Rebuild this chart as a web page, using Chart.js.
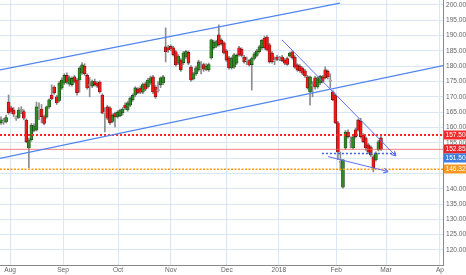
<!DOCTYPE html>
<html lang="en">
<head>
<meta charset="UTF-8">
<title>Daily candles</title>
<script src="https://cdn.jsdelivr.net/npm/chart.js@4.4.0/dist/chart.umd.min.js"></script>
<style>
  html, body { margin: 0; padding: 0; background: #fff; }
</style>
</head>
<body>
<canvas id="chart" width="466" height="275"></canvas>
<script>
// daily candles, late Jul 2017 -> end Feb 2018
const opens = [161.5,162,161.8,168.3,166.4,165.7,163.4,163.3,165.5,165.2,162.4,153.3,156,159,159.2,166,166,163.5,163.4,166.7,
  170.6,173.2,170,168.8,172.9,174.5,177,174.2,174,176.5,175.5,175.5,177.8,180,177,174,173.5,175,174.5,174.8,
  170.6,165,166.7,166.4,162,164.5,163.4,163.8,164.8,167.3,165.7,167.3,169,170.6,172.5,172.8,171.5,174.2,173.2,174.5,
  176.5,173.2,172,173.9,174.5,186.3,186,186.5,186,184.7,181,182,181.1,183,184.5,179.7,175.8,177.5,178.8,179,
  180.5,178.9,178.8,182.7,186,186.5,190.2,188.5,187.6,185,182.7,179.5,179.7,181,186,185.5,183,182,181.8,180.5,
  182.5,183.5,184.7,186,189.2,189.5,187,184.3,182,183,182.8,183,182,182.5,183.3,184.7,183,180.4,180,179.4,
  178.5,176.5,171.6,174,176.2,173.2,174.5,176.5,178.8,178.3,175.5,171.6,170.6,161.5,149,140.5,153.3,158.5,155,153.3,
  159.2,162.4,162,157.5,156.6,154.3,153.6,150.4,149.4,152.7,156.6];
const highs = [163.5,163,164,170.6,167,166.5,163.8,166.5,166.8,165.8,162.8,156.5,161.3,161.2,168.3,168,167.5,164,167,169.3,
  173.9,173.6,170.5,175,176.2,177.5,177.8,176.8,176.5,177,176,179.8,181.2,180.8,177.5,176.3,175.5,175.8,175,175.2,
  171,166.5,167.2,166.8,164.5,165,165.5,166,166.5,168,168.5,170,171,173.3,173,173.5,174.5,174.8,176,176.8,
  177,173.8,175,176.5,177,192.5,186.8,187,186.5,185.2,183.8,182.5,184.8,185.2,185,180.2,178,180,182,181.5,
  181,180.8,181,188.8,188.5,188.5,193.5,189,188,185.5,183.2,183,184.2,184,186.5,186,183.5,183,182.2,183,
  184.5,185.5,186.8,188.7,189.8,190,187.5,184.8,183,183.5,183.2,183.5,182.5,183,184.6,185,183.5,180.8,180.5,179.8,
  179,177,176.8,175,176.8,176.5,177,177,179.8,178.8,177.5,172,171,162,152,149.5,159,159.2,157,157.5,
  159.8,162.8,163,158,157,154.8,154,151,152,155.8,157.3];
const lows = [161,161,161.5,164.3,164.5,163.5,162.3,163,164.5,162.5,155,146.8,155.5,158.5,158.8,162.5,161.5,160.8,163,166.2,
  169,170.8,167.5,168.3,172.4,174,174.2,173.5,173.5,174.5,170.5,171.5,177.3,177,172.5,170,173,173.5,173,171.2,
  164.5,158.5,162.5,161,161.5,160.2,163,163.5,164,165.8,165.3,166.8,168.5,170,171,171,171,172,172.8,174,
  171,169.5,171.5,173,174,181.4,184.5,185,183.3,180,180.5,178.3,180.5,182.5,180.5,175,175.5,177,178.3,177.5,
  178.3,178.5,178.3,182.3,185.5,186,186.5,186.8,184,181.5,179,179,179.3,180.5,183.3,183,181,180.5,180,172.2,
  182,183,184.3,185.5,185.5,185,181,181,180.5,181.8,181.8,181.5,180.5,180.3,183,182.3,179.3,178.3,178,177.2,
  176.3,172.5,167.3,170,172.5,172.8,174,174.5,175.8,175.8,173,168.7,161.3,149.5,146,140.2,152.8,156.5,153.3,153,
  156.5,158.8,156.5,155,152.5,151.5,150.5,145.5,149,152.3,152.5];
const closes = [162.5,161.6,163.2,164.8,165.2,164.3,162.8,165.7,165.9,163,155.3,155.9,160.8,160.5,166.7,165.6,163.5,161.3,166.7,169,
  169.3,171.3,168,174.5,175.5,177,174.8,176.2,176,175,171.3,179.4,180.4,177.5,172.9,173.7,175,174,173.5,171.6,
  164.7,164.8,163,161.5,164,163.5,165,165.5,166,166.4,168,169.6,170.5,172.9,171.3,171.5,174,172.5,175.5,176.2,
  171.6,170,172.4,176.2,176.5,184.7,185.3,185.8,183.7,180.4,183.3,178.8,184.3,184.8,181,175.5,177.5,179.5,181.4,179.3,
  179,180,180.5,188.6,187.8,188,187,187.3,184.3,182,179.4,182.5,183.7,183.5,183.7,183.5,181.4,181.8,180.4,182.5,
  184,185,186.3,188.5,186,185.3,181.4,181.4,181.6,182.2,182.3,181.8,181,180.6,184.3,182.7,179.7,178.8,178.5,177.7,
  176.8,172.9,176.5,173.6,173.2,176.2,176.8,175,176.2,176.5,175.1,169,161.5,152,148.6,149.4,158.5,157,155.3,156.9,
  157,159.2,157,155.3,153.3,152,151,146.8,151.6,155.3,152.85];

// x axis month marks (in candle index units) and their labels
const monthTicks = [3.6, 24.5, 46.2, 67.1, 89.2, 109.7, 132.3, 152, 173.3];
const monthLabels = ['Aug', 'Sep', 'Oct', 'Nov', 'Dec', '2018', 'Feb', 'Mar', 'Ap'];
const priceTicks = [120, 125, 130, 135, 140, 145, 150, 155, 160, 165, 170, 175, 180, 185, 190, 195, 200];

// drawn levels and trend lines (candle index, price)
const resistance = 157.5;
const lastPrice = 152.85;
const support = 146.32;
const midLevel = 151.5;
const midLevelSpan = [126.7, 156.3];
const channelUpper = [[-0.4, 178.8], [133.8, 200.6]];
const channelLower = [[-0.4, 149.9], [174.5, 180.2]];
const downTrend = [[110.9, 188.6], [155.9, 150.7]];
const lowTrend = [[129.1, 150.5], [152.8, 145.6]];

const tags = [
  { value: resistance, color: '#f42b2b' },
  { value: lastPrice, color: '#e5262a' },
  { value: midLevel, color: '#3f7fe0' },
  { value: support, color: '#f7981f' }
];

const xMin = -0.4, xMax = 174.5;
const yMin = 115.1, yMax = 201.6;
const TAG_H = 9;
const pxPerUnit = 265 / (yMax - yMin);

// push overlapping price tags apart (kept in price units)
let prevShown = Infinity;
tags.forEach(t => {
  t.shown = Math.min(t.value, prevShown - TAG_H / pxPerUnit);
  prevShown = t.shown;
});

const pts = a => a.map(p => ({ x: p[0], y: p[1] }));
const flat = (v, from, to) => [{ x: from, y: v }, { x: to, y: v }];

const bodyFill = closes.map((c, i) => Math.abs(c - opens[i]) < 0.6 ? '#c8c8c8' : (c > opens[i] ? '#2f8a23' : '#f01818'));
const bodyLine = closes.map((c, i) => Math.abs(c - opens[i]) < 0.6 ? '#8a8a8a' : (c > opens[i] ? '#153d10' : '#5a1010'));

const FONT = '"Liberation Sans", Arial, sans-serif';
Chart.defaults.font.family = FONT;
Chart.defaults.font.size = 6.6;
Chart.defaults.color = '#666';

const arrowHeads = {
  id: 'arrowHeads',
  afterDatasetsDraw(chart) {
    const ctx = chart.ctx;
    chart.data.datasets.forEach((ds, di) => {
      if (!ds.arrow) return;
      const p = chart.getDatasetMeta(di).data;
      const a = p[p.length - 2], b = p[p.length - 1];
      const ang = Math.atan2(b.y - a.y, b.x - a.x);
      ctx.save();
      ctx.strokeStyle = ds.borderColor;
      ctx.lineWidth = 1.2;
      ctx.beginPath();
      [-0.5, 0.5].forEach(d => {
        ctx.moveTo(b.x, b.y);
        ctx.lineTo(b.x - 5 * Math.cos(ang + d), b.y - 5 * Math.sin(ang + d));
      });
      ctx.stroke();
      ctx.restore();
    });
  }
};

const priceTags = {
  id: 'priceTags',
  afterDraw(chart) {
    const ctx = chart.ctx;
    const y = chart.scales.y;
    const left = chart.chartArea.right + 1;
    ctx.save();
    ctx.font = '6.6px ' + FONT;
    ctx.textBaseline = 'middle';
    tags.forEach(t => {
      const py = Math.round(y.getPixelForValue(t.shown));
      ctx.fillStyle = t.color;
      ctx.fillRect(left, py - TAG_H / 2, chart.width - left, TAG_H);
      ctx.fillStyle = '#fff';
      ctx.fillText(t.value.toFixed(2), left + 1.5, py + 0.5);
    });
    ctx.restore();
  }
};

new Chart(document.getElementById('chart'), {
  type: 'bar',
  data: {
    datasets: [
      { type: 'line', data: pts(channelUpper), borderColor: '#4f86ee', borderWidth: 1.3, pointRadius: 0, order: 0 },
      { type: 'line', data: pts(channelLower), borderColor: '#4f86ee', borderWidth: 1.3, pointRadius: 0, order: 0 },
      { type: 'line', data: pts(downTrend), borderColor: '#5f70f0', borderWidth: 1, pointRadius: 0, order: 0, arrow: true },
      { type: 'line', data: pts(lowTrend), borderColor: '#5f70f0', borderWidth: 1, pointRadius: 0, order: 0, arrow: true },
      { type: 'line', data: flat(resistance, xMin, xMax), borderColor: '#ff2424', borderWidth: 2, borderDash: [2, 2], pointRadius: 0, order: 0 },
      { type: 'line', data: flat(lastPrice, xMin, xMax), borderColor: 'rgba(240,90,90,0.75)', borderWidth: 1, pointRadius: 0, order: 0 },
      { type: 'line', data: flat(support, xMin, xMax), borderColor: '#ff9a10', borderWidth: 1.5, borderDash: [2, 1.5], pointRadius: 0, order: 0 },
      { type: 'line', data: flat(midLevel, midLevelSpan[0], midLevelSpan[1]), borderColor: '#3566e8', borderWidth: 1.3, borderDash: [2, 2], pointRadius: 0, order: 0 },
      {
        data: lows.map((l, i) => ({ x: i, y: [l, highs[i]] })),
        backgroundColor: '#8c8c8c', barThickness: 1, grouped: false, order: 2
      },
      {
        data: opens.map((o, i) => ({ x: i, y: [o, closes[i]] })),
        backgroundColor: bodyFill, borderColor: bodyLine, borderWidth: 0.6, borderSkipped: false,
        barThickness: 3, grouped: false, order: 1
      }
    ]
  },
  options: {
    responsive: false,
    animation: false,
    layout: { padding: 0 },
    plugins: { legend: { display: false }, tooltip: { enabled: false } },
    scales: {
      x: {
        type: 'linear', min: xMin, max: xMax, offset: false,
        afterBuildTicks: s => { s.ticks = monthTicks.map(v => ({ value: v })); },
        afterFit: s => { s.height = 10; s.paddingLeft = 0; s.paddingRight = 0; },
        ticks: { autoSkip: false, maxRotation: 0, padding: 1, callback: (v, i) => monthLabels[i] },
        grid: { color: '#d8e6f8', offset: false, drawTicks: false },
        border: { color: '#888' }
      },
      y: {
        position: 'right', min: yMin, max: yMax,
        afterBuildTicks: s => { s.ticks = priceTicks.map(v => ({ value: v })); },
        afterFit: s => { s.width = 23; s.paddingTop = 0; s.paddingBottom = 0; },
        ticks: {
          padding: 3,
          // a tick label sitting under a price tag is not shown
          callback: v => tags.some(t => Math.abs(t.shown - v) < 6 / pxPerUnit) ? '' : v.toFixed(2)
        },
        grid: { color: '#d8e6f8', drawTicks: false },
        border: { color: '#888' }
      }
    }
  },
  plugins: [arrowHeads, priceTags]
});
</script>
</body>
</html>
